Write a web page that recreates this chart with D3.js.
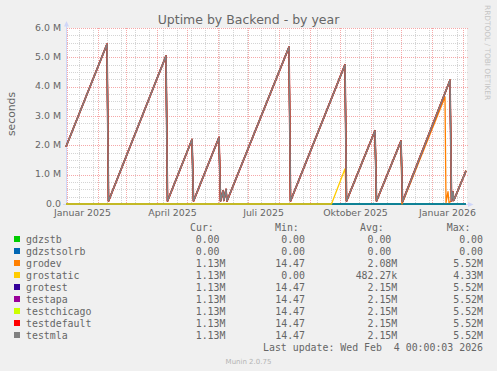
<!DOCTYPE html>
<html>
<head>
<meta charset="utf-8">
<script src="https://cdn.jsdelivr.net/npm/d3@7"></script>
<style>
body { margin: 0; background: #F0F0F0; }
svg { display: block; }
text { font-family: "DejaVu Sans", sans-serif; fill: #666; }
.mono text { font-family: "DejaVu Sans Mono", monospace; font-size: 9.9px; }
</style>
</head>
<body>
<svg id="chart" width="497" height="371"></svg>
<script>
// legend table
var seriesNames = ["gdzstb", "gdzstsolrb", "grodev", "grostatic", "grotest", "testapa", "testchicago", "testdefault", "testmla"]
var seriesColors = ["#00CC00", "#0066B3", "#FF8000", "#FFCC00", "#330099", "#990099", "#CCFF00", "#FF0000", "#808080"]
var curNum = ["0.00", "0.00", "1.13", "1.13", "1.13", "1.13", "1.13", "1.13", "1.13"]
var curUnit = ["", "", "M", "M", "M", "M", "M", "M", "M"]
var minNum = ["0.00", "0.00", "14.47", "0.00", "14.47", "14.47", "14.47", "14.47", "14.47"]
var avgNum = ["0.00", "0.00", "2.08", "482.27", "2.15", "2.15", "2.15", "2.15", "2.15"]
var avgUnit = ["", "", "M", "k", "M", "M", "M", "M", "M"]
var maxText = ["0.00", "0.00", "5.52M", "4.33M", "5.52M", "5.52M", "5.52M", "5.52M", "5.52M"]

// uptime readings in millions of seconds: [time, value]
var mainUptime = [
  ["2024-12-31T00:00", 1.95], ["2025-02-10T00:00", 5.45], ["2025-02-11T12:00", 0.10],
  ["2025-04-10T00:00", 5.05], ["2025-04-11T12:00", 0.10], ["2025-05-06T00:00", 2.20],
  ["2025-05-07T12:00", 0.10], ["2025-06-02T00:00", 2.27], ["2025-06-03T12:00", 0.10],
  ["2025-06-06T00:00", 0.45], ["2025-06-06T20:00", 0.12], ["2025-06-09T00:00", 0.50],
  ["2025-06-10T00:00", 0.10], ["2025-08-11T00:00", 5.35], ["2025-08-12T12:00", 0.10],
  ["2025-10-06T00:00", 4.75], ["2025-10-07T12:00", 0.10], ["2025-11-05T00:00", 2.50],
  ["2025-11-06T12:00", 0.10], ["2025-12-01T00:00", 2.15], ["2025-12-02T12:00", 0.08],
  ["2026-01-19T00:00", 4.22], ["2026-01-20T12:00", 0.10], ["2026-01-22T00:00", 0.42],
  ["2026-01-22T18:00", 0.12], ["2026-02-04T00:00", 1.13]
]
var grodevUptime = mainUptime.slice(0, 20).concat([
  ["2025-12-02T00:00", 0.00], ["2026-01-14T00:00", 3.65], ["2026-01-15T00:00", 0.05],
  ["2026-01-17T00:00", 0.42], ["2026-01-18T00:00", 0.05]
]).concat(mainUptime.slice(22))
var grostaticUptime = [
  ["2024-12-31T00:00", 0], ["2025-09-22T12:00", 0], ["2025-10-06T00:00", 1.20]
].concat(mainUptime.slice(16))
var zeroUptime = [["2024-12-31T00:00", 0], ["2026-02-04T00:00", 0]]

var seriesData = [zeroUptime, zeroUptime, grodevUptime, grostaticUptime,
  mainUptime, mainUptime, mainUptime, mainUptime, mainUptime]

var yTicks = [0, 1, 2, 3, 4, 5, 6]
var monthNames = ["Januar", "Februar", "März", "April", "Mai", "Juni", "Juli", "August", "September", "Oktober", "November", "Dezember"]

var parse = d3.isoParse
var svg = d3.select("#chart")

var x = d3.scaleTime()
  .domain([new Date(2024, 11, 31), new Date(2026, 1, 4)])
  .range([66, 466])
var y = d3.scaleLinear().domain([0, 6]).range([204, 28])

var px0 = 67, px1 = 467

svg.append("rect").attr("x", px0).attr("y", 28).attr("width", px1 - px0).attr("height", 176).attr("fill", "#fff")

// grid
var grid = svg.append("g").attr("shape-rendering", "crispEdges")
var minorCol = "#d4d4d4", majorCol = "#f5a8a8"
var minorY = d3.range(0, 24).map(i => i * 0.25).filter(v => v % 1 !== 0)
grid.selectAll(".hmin").data(minorY).join("line")
  .attr("x1", px0).attr("x2", px1 + 1)
  .attr("y1", d => Math.round(y(d)) + 0.5).attr("y2", d => Math.round(y(d)) + 0.5)
  .attr("stroke", minorCol).attr("stroke-dasharray", "1,1")

var mondays = d3.timeMonday.range(new Date(2025, 0, 13), new Date(2026, 1, 4)).filter((d, i) => i % 2 === 0)
grid.selectAll(".vmin").data(mondays).join("line")
  .attr("x1", d => Math.round(x(d)) + 0.5).attr("x2", d => Math.round(x(d)) + 0.5)
  .attr("y1", 28).attr("y2", 204)
  .attr("stroke", minorCol).attr("stroke-dasharray", "1,1")

grid.selectAll(".hmaj").data(yTicks.slice(1)).join("line")
  .attr("x1", px0).attr("x2", px1 + 1)
  .attr("y1", d => Math.round(y(d)) + 0.5).attr("y2", d => Math.round(y(d)) + 0.5)
  .attr("stroke", majorCol).attr("stroke-dasharray", "1,1")

var months = d3.timeMonth.range(new Date(2025, 0, 1), new Date(2026, 1, 4))
grid.selectAll(".vmaj").data(months).join("line")
  .attr("x1", d => Math.round(x(d)) + 0.5).attr("x2", d => Math.round(x(d)) + 0.5)
  .attr("y1", 28).attr("y2", 204)
  .attr("stroke", majorCol).attr("stroke-dasharray", "1,1")

// axes lines + arrows
var axisCol = "#CFD6F8"
svg.append("line").attr("x1", 66.5).attr("x2", 66.5).attr("y1", 205).attr("y2", 24).attr("stroke", axisCol)
svg.append("line").attr("x1", 63).attr("x2", 469).attr("y1", 204.5).attr("y2", 204.5).attr("stroke", axisCol)
svg.append("path").attr("d", "M64,26.5L66.5,21L69,26.5Z").attr("fill", axisCol)
svg.append("path").attr("d", "M468,202L473.5,204.5L468,207Z").attr("fill", axisCol)

// series
var line = d3.line().x(d => x(parse(d[0]))).y(d => y(d[1]))
seriesData.forEach(function (data, i) {
  svg.append("path")
    .attr("d", line(data))
    .attr("fill", "none")
    .attr("stroke", seriesColors[i])
    .attr("stroke-width", i === 7 ? 1.7 : (i === 8 ? 1.5 : 1.3))
    .attr("stroke-linejoin", "round")
})

// y axis
svg.append("g")
  .attr("transform", "translate(67,-0.8)")
  .call(d3.axisLeft(y).tickValues(yTicks).tickSize(0).tickPadding(6)
    .tickFormat(d => d === 0 ? "0.0" : d.toFixed(1) + " M"))
  .call(g => g.select(".domain").remove())
  .call(g => g.selectAll("text").attr("font-family", "DejaVu Sans").attr("font-size", "9.4px").attr("fill", "#666"))

// x axis labels, centred mid-month like rrdtool
var labelDates = [new Date(2025, 0, 16), new Date(2025, 3, 16), new Date(2025, 6, 16), new Date(2025, 9, 16), new Date(2026, 0, 16)]
svg.append("g")
  .attr("transform", "translate(0,205)")
  .call(d3.axisBottom(x).tickValues(labelDates).tickSize(0).tickPadding(4)
    .tickFormat(d => monthNames[d.getMonth()] + " " + d.getFullYear()))
  .call(g => g.select(".domain").remove())
  .call(g => g.selectAll("text").attr("font-family", "DejaVu Sans").attr("font-size", "9.4px").attr("fill", "#666"))

// titles
svg.append("text").attr("x", 248.5).attr("y", 23.5).attr("text-anchor", "middle")
  .attr("font-size", "12.5px").text("Uptime by Backend - by year")
svg.append("text").attr("transform", "translate(15,114) rotate(-90)").attr("text-anchor", "middle")
  .attr("font-size", "10.8px").text("seconds")
svg.append("text").attr("transform", "translate(485,5) rotate(90)")
  .attr("font-size", "7.4px").style("fill", "#c4c4c4").text("RRDTOOL / TOBI OETIKER")

// legend
var leg = svg.append("g").attr("class", "mono")
leg.append("text").attr("x", 190).attr("y", 231).text("Cur:")
leg.append("text").attr("x", 275).attr("y", 231).text("Min:")
leg.append("text").attr("x", 360).attr("y", 231).text("Avg:")
leg.append("text").attr("x", 446.7).attr("y", 231).text("Max:")

seriesNames.forEach(function (name, i) {
  var by = 243 + i * 12
  leg.append("rect").attr("x", 14).attr("y", by - 7).attr("width", 6).attr("height", 6).attr("fill", seriesColors[i])
  leg.append("text").attr("x", 26).attr("y", by).text(name)
  leg.append("text").attr("x", 219.5).attr("y", by).attr("text-anchor", "end").text(curNum[i])
  leg.append("text").attr("x", 219.5).attr("y", by).text(curUnit[i])
  leg.append("text").attr("x", 305).attr("y", by).attr("text-anchor", "end").text(minNum[i])
  leg.append("text").attr("x", 391.3).attr("y", by).attr("text-anchor", "end").text(avgNum[i])
  leg.append("text").attr("x", 391.3).attr("y", by).text(avgUnit[i])
  leg.append("text").attr("x", 483).attr("y", by).attr("text-anchor", "end").text(maxText[i])
})
leg.append("text").attr("x", 483).attr("y", 351).attr("text-anchor", "end")
  .attr("xml:space", "preserve").style("white-space", "pre").text("Last update: Wed Feb  4 00:00:03 2026")

svg.append("text").attr("x", 248.5).attr("y", 364).attr("text-anchor", "middle")
  .attr("font-size", "7px").style("fill", "#b4b4b4").text("Munin 2.0.75")
</script>
</body>
</html>
